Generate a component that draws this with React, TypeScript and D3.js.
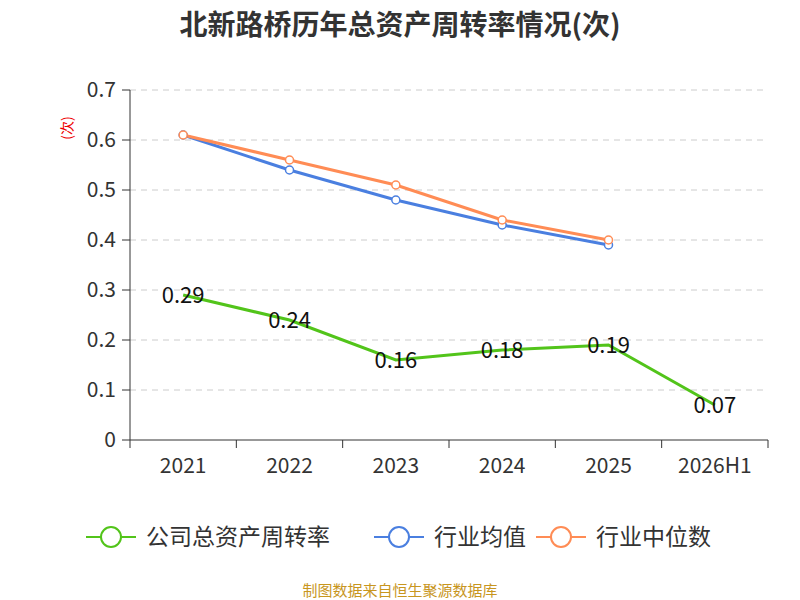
import React from 'react';
import * as d3 from 'd3';

const years = ['2021', '2022', '2023', '2024', '2025', '2026H1'];
const companyTurnover = [0.29, 0.24, 0.16, 0.18, 0.19, 0.07];
const industryAvg = [0.61, 0.54, 0.48, 0.43, 0.39];
const industryMedian = [0.61, 0.56, 0.51, 0.44, 0.4];
const yTicks = [0, 0.1, 0.2, 0.3, 0.4, 0.5, 0.6, 0.7];

const GREEN = '#52c41a';
const BLUE = '#4a7fe0';
const ORANGE = '#ff8c55';
const FONT = '"Noto Sans CJK SC", "Noto Sans", sans-serif';

export default function App() {
  const left = 130, right = 768, top = 90, bottom = 440;
  const x = d3.scaleBand().domain(years).range([left, right]);
  const y = d3.scaleLinear().domain([0, 0.7]).range([bottom, top]);
  const cx = (i: number) => (x(years[i]) as number) + x.bandwidth() / 2;
  const line = d3.line<number>().x((_, i) => cx(i)).y(d => y(d));

  const legend = [
    { label: '公司总资产周转率', color: GREEN, x: 90 },
    { label: '行业均值', color: BLUE, x: 378 },
    { label: '行业中位数', color: ORANGE, x: 540 },
  ];

  return (
    <svg width={800} height={600} style={{ position: 'absolute', left: 0, top: 0 }} fontFamily={FONT}>
      <text x={400} y={35} textAnchor="middle" fontSize={28} fontWeight="bold" fill="#333">北新路桥历年总资产周转率情况(次)</text>
      <text transform="translate(72,128) rotate(-90)" textAnchor="middle" fontSize={14} fill="#e00">(次)</text>
      {yTicks.map(t => (
        <g key={t}>
          {t > 0 && <line x1={left} x2={right} y1={y(t)} y2={y(t)} stroke="#ccc" strokeDasharray="6,5" />}
          <line x1={left - 8} x2={left} y1={y(t)} y2={y(t)} stroke="#333" />
          <text x={left - 14} y={y(t) + 7} textAnchor="end" fontSize={21} fill="#333">{t}</text>
        </g>
      ))}
      <line x1={left} x2={left} y1={top} y2={bottom} stroke="#333" />
      <line x1={left} x2={right} y1={bottom} y2={bottom} stroke="#333" />
      {years.map((yr, i) => (
        <g key={yr}>
          <line x1={x(yr) as number} x2={x(yr) as number} y1={bottom} y2={bottom + 8} stroke="#333" />
          <text x={cx(i)} y={bottom + 33} textAnchor="middle" fontSize={21} fill="#333">{yr}</text>
        </g>
      ))}
      <line x1={right} x2={right} y1={bottom} y2={bottom + 8} stroke="#333" />
      <path d={line(industryAvg) as string} fill="none" stroke={BLUE} strokeWidth={3} />
      <path d={line(industryMedian) as string} fill="none" stroke={ORANGE} strokeWidth={3} />
      <path d={line(companyTurnover) as string} fill="none" stroke={GREEN} strokeWidth={3} />
      {industryAvg.map((v, i) => <circle key={'a' + i} cx={cx(i)} cy={y(v)} r={4} fill="#fff" stroke={BLUE} strokeWidth={1.5} />)}
      {industryMedian.map((v, i) => <circle key={'m' + i} cx={cx(i)} cy={y(v)} r={4} fill="#fff" stroke={ORANGE} strokeWidth={1.5} />)}
      {companyTurnover.map((v, i) => (
        <text key={'c' + i} x={cx(i)} y={y(v) + 8} textAnchor="middle" fontSize={22} fill="#111">{v.toFixed(2)}</text>
      ))}
      {legend.map(l => (
        <g key={l.label}>
          <line x1={l.x - 4} x2={l.x + 46} y1={537} y2={537} stroke={l.color} strokeWidth={2} />
          <circle cx={l.x + 21} cy={537} r={10} fill="#fff" stroke={l.color} strokeWidth={2} />
          <text x={l.x + 56} y={545} fontSize={23} fill="#333">{l.label}</text>
        </g>
      ))}
      <text x={400} y={596} textAnchor="middle" fontSize={15} fill="#c8961e">制图数据来自恒生聚源数据库</text>
    </svg>
  );
}
